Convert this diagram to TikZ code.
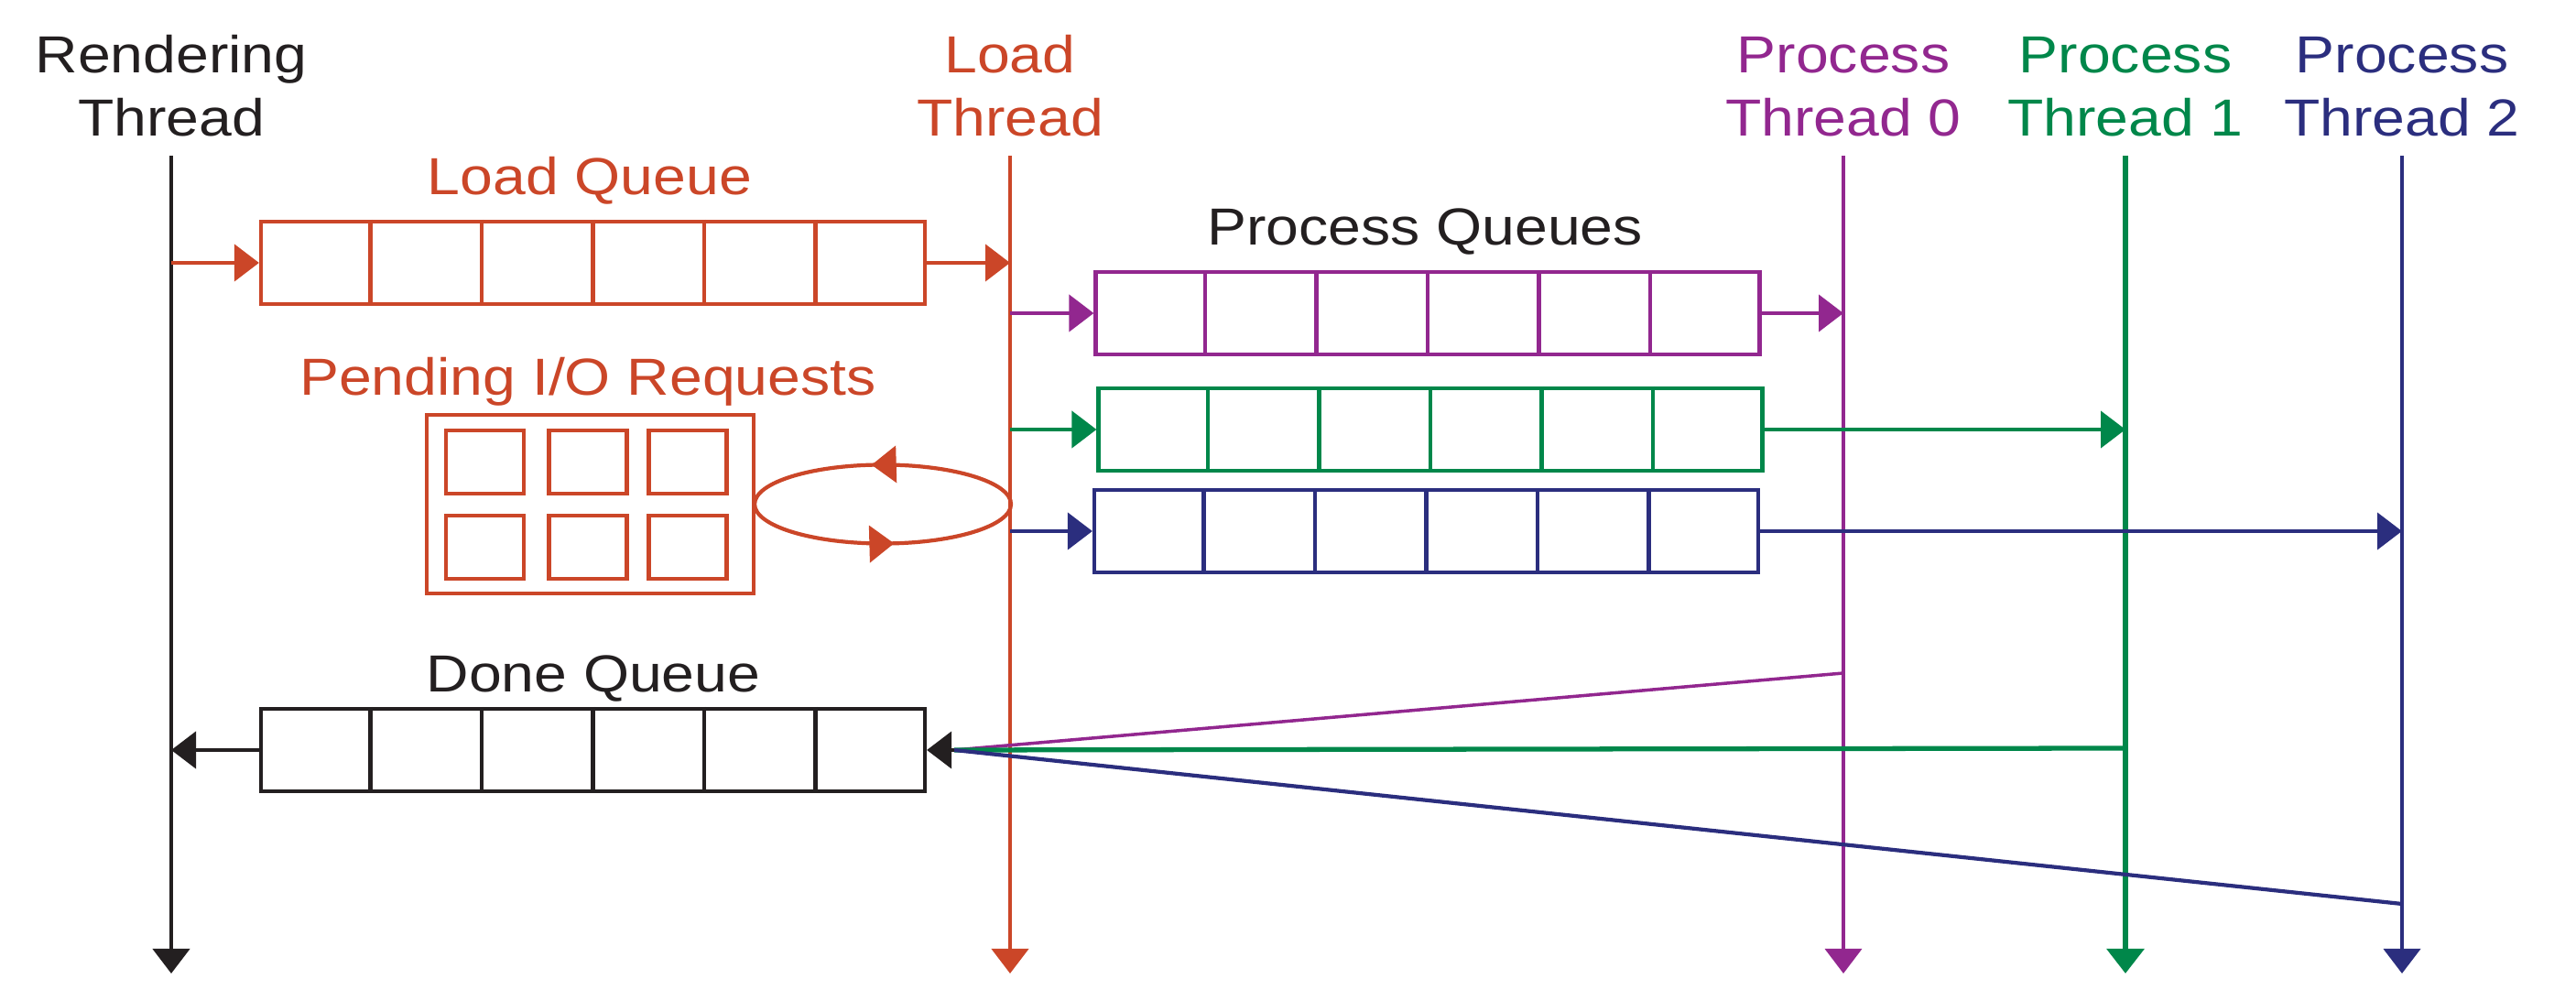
\documentclass[tikz,border=0pt]{standalone}
\usepackage{fontspec}
\setmainfont{Liberation Sans}[FakeStretch=1.13]
\usetikzlibrary{arrows.meta,calc,decorations.markings}
\definecolor{ink}{HTML}{231F20}
\definecolor{rust}{HTML}{CB4628}
\definecolor{plum}{HTML}{92278F}
\definecolor{leaf}{HTML}{00874A}
\definecolor{navy}{HTML}{2B2E7E}

\begin{document}
\begin{tikzpicture}[line width=1.2pt]
    \tikzstyle{flow}= [-{Triangle[length=0.27cm,width=0.40cm]}]
    \tikzstyle{lbl}= [inner sep=0pt, align=center, font=\fontsize{16.2}{19.6}\selectfont]
    \tikzstyle{queue}= [draw, minimum width=7.25cm, minimum height=0.9cm, inner sep=0pt]
    \tikzstyle{slot}= [draw, rust, minimum width=0.85cm, minimum height=0.69cm, inner sep=0pt]
  \def\cells#1#2{\foreach \i in {1,...,5}
    \draw[#2] ($(#1.north west)!\i/6!(#1.north east)$) -- ($(#1.south west)!\i/6!(#1.south east)$);}
  \def\ytop{-1.70}
  \def\ybot{-10.63}

  \useasboundingbox (0,0) rectangle (28.13,-10.81);

  % time lines of the threads
  \foreach \n/\x/\c/\w/\t in {rt/1.87/ink/1.3/{Rendering\\Thread}, lt/11.03/rust/1.2/{Load\\Thread},
      p0/20.13/plum/1.0/{Process\\Thread 0}, p1/23.21/leaf/1.8/{Process\\Thread 1},
      p2/26.23/navy/1.2/{Process\\Thread 2}} {
    \node[lbl, anchor=south, text=\c] (\n-lbl) at (\x,-1.51) {\t};
    \coordinate (\n-top) at (\x,\ytop);
    \coordinate (\n-bot) at (\x,\ybot);
    \draw[flow, \c, line width=\w pt] (\n-top) -- (\n-bot);
  }

  % load queue
  \node[lbl, anchor=base, text=rust] (lq-lbl) at (6.44,-2.13) {Load Queue};
  \node[queue, rust] (lq) at (6.475,-2.87) {};
  \cells{lq}{rust}
  \draw[flow, rust] (rt-top |- lq.west) -- (lq.west);
  \draw[flow, rust] (lq.east) -- (lt-top |- lq.east);

  % one process queue per process thread
  \node[lbl, anchor=base, text=ink] (pq-lbl) at (15.56,-2.68) {Process Queues};
  \foreach \n/\x/\y/\c in {0/15.59/-3.42/plum, 1/15.62/-4.69/leaf, 2/15.575/-5.80/navy} {
    \node[queue, \c] (pq\n) at (\x,\y) {};
    \cells{pq\n}{\c}
    \draw[flow, \c] (lt-top |- pq\n.west) -- (pq\n.west);
    \draw[flow, \c] (pq\n.east) -- (p\n-top |- pq\n.east);
  }

  % pending i/o requests
  \node[lbl, anchor=base, text=rust] (pend-lbl) at (6.42,-4.32) {Pending I/O Requests};
  \node[draw, rust, minimum width=3.57cm, minimum height=1.95cm, inner sep=0pt] (pend) at (6.445,-5.505) {};
  \foreach \dx [count=\k] in {-1.15,-0.025,1.065} {
    \node[slot] (io\k a) at ($(pend)+(\dx,0.46)$) {};
    \node[slot] (io\k b) at ($(pend)+(\dx,-0.47)$) {};
  }
  \coordinate (io-mid) at ($(pend.east)!0.5!(lt-top |- pend.east)$);
  \draw[rust, postaction={decorate}, decoration={markings,
      mark=at position 0.27 with {\arrow{Triangle[length=0.27cm,width=0.40cm]}},
      mark=at position 0.77 with {\arrow{Triangle[length=0.27cm,width=0.40cm]}}}]
    (io-mid) ellipse (1.40 and 0.43);

  % done queue
  \node[lbl, anchor=base, text=ink] (dq-lbl) at (6.48,-7.56) {Done Queue};
  \node[queue, ink] (dq) at (6.475,-8.19) {};
  \cells{dq}{ink}
  \draw[flow, ink] (dq.west) -- (rt-top |- dq.west);
  \coordinate (dq-in) at ($(dq.east)+(0.30,0)$);
  \draw[plum, line width=1pt] (p0-top |- 0,-7.35) -- (dq-in);
  \draw[leaf, line width=1.5pt] (p1-top |- 0,-8.17) -- (dq-in);
  \draw[navy] (p2-top |- 0,-9.87) -- (dq-in);
  \draw[flow, ink] (dq-in) -- (dq.east);

\end{tikzpicture}
\end{document}
